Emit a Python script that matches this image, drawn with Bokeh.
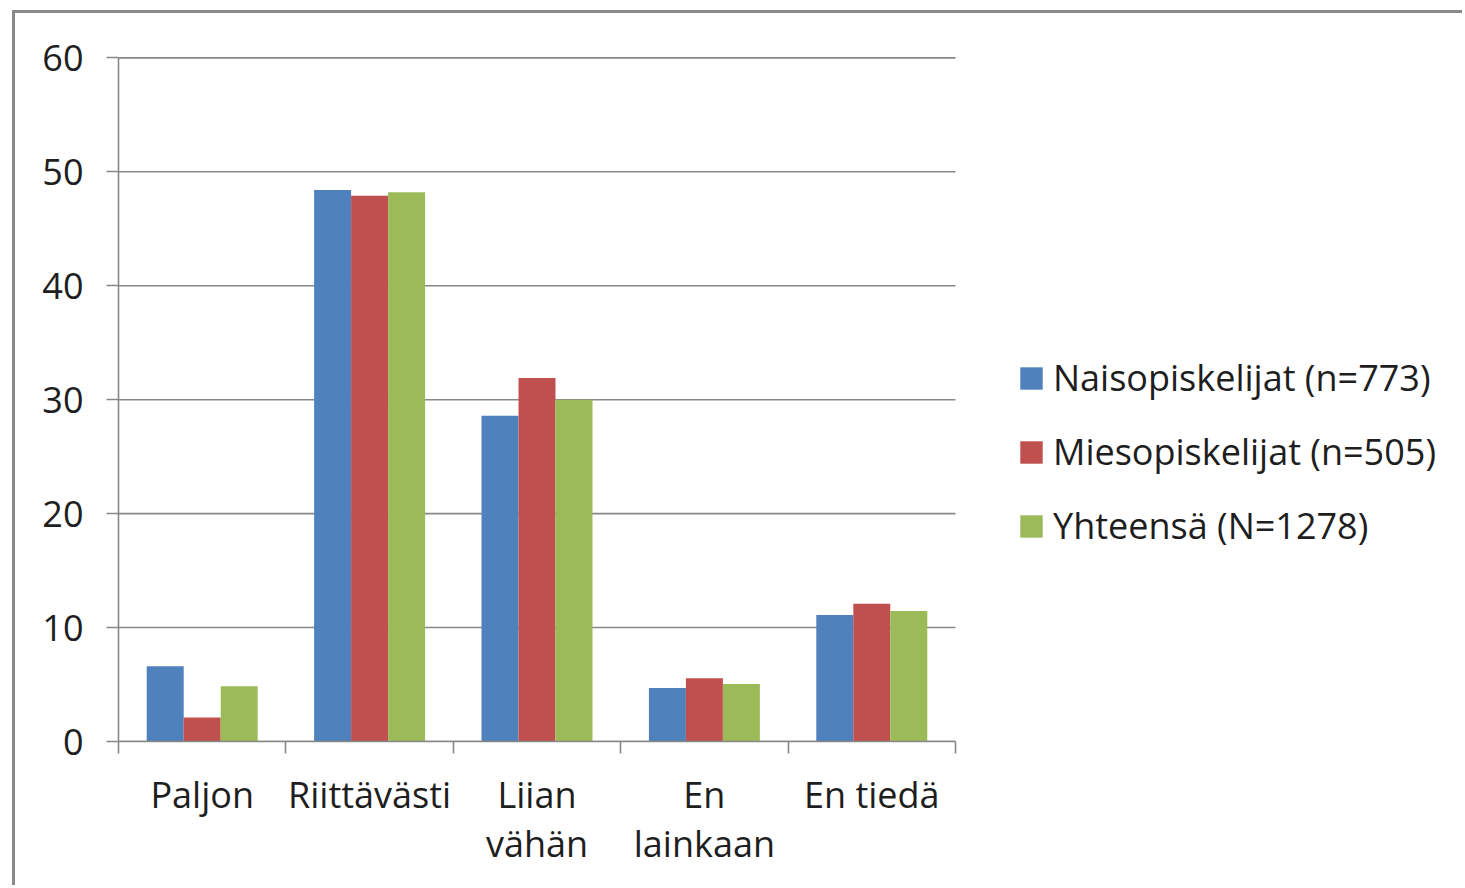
from bokeh.plotting import figure
from bokeh.models import ColumnDataSource, Range1d, FixedTicker, Legend, LegendItem
from bokeh.transform import dodge
from bokeh.embed import file_html
from bokeh.resources import INLINE

categories = ["Paljon", "Riittävästi", "Liian\nvähän", "En\nlainkaan", "En tiedä"]
series_names = ["Naisopiskelijat (n=773)", "Miesopiskelijat (n=505)", "Yhteensä (N=1278)"]
naiset = [6.6, 48.4, 28.6, 4.7, 11.1]
miehet = [2.1, 47.9, 31.9, 5.55, 12.1]
yhteensa = [4.85, 48.2, 30.0, 5.05, 11.45]
y_ticks = [0, 10, 20, 30, 40, 50, 60]
colors = ["#4F81BD", "#C0504D", "#9BBB59"]

n = len(categories)
centers = [i + 0.5 for i in range(n)]
bounds = [i for i in range(n + 1)]

source = ColumnDataSource(dict(cx=centers, naiset=naiset, miehet=miehet, yhteensa=yhteensa))

FONT = "Open Sans"
FS = "36px"
TXT = "#1e1e1e"
GRID = "#888888"

# plot area spans to the right edge so the legend (right of the bars) is not clipped
PLOT_PX = 837.0
FRAME_PX = 1450 - 103
p = figure(width=1450, height=875, output_backend="svg", toolbar_location=None,
           x_range=Range1d(0, n * FRAME_PX / PLOT_PX), y_range=Range1d(0, 60.12),
           min_border_left=103, min_border_right=0, min_border_top=43, min_border_bottom=147)
p.styles = {"margin-left": "12px", "margin-top": "10px",
            "border-left": "3px solid #8a8a8a", "border-top": "3px solid #8a8a8a"}
p.outline_line_color = None
p.background_fill_color = "white"
p.border_fill_color = "white"
p.grid.visible = False

# horizontal gridlines limited to the category area
p.segment(x0=0, x1=n, y0=y_ticks, y1=y_ticks, line_color=GRID, line_width=1.6)

bw = 0.221
renderers = []
for col, off, c in zip(["naiset", "miehet", "yhteensa"], [-bw, 0, bw], colors):
    r = p.vbar(x=dodge("cx", off, range=p.x_range), top=col, width=bw, bottom=0, source=source,
               fill_color=c, line_color=None)
    renderers.append(r)

# y axis
p.yaxis.ticker = FixedTicker(ticks=y_ticks)
p.yaxis.bounds = (0, 60)
p.yaxis.axis_line_color = GRID
p.yaxis.axis_line_width = 1.6
p.yaxis.major_tick_line_color = GRID
p.yaxis.major_tick_line_width = 1.6
p.yaxis.major_tick_out = 12
p.yaxis.major_tick_in = 0
p.yaxis.minor_tick_line_color = None
p.yaxis.major_label_standoff = 23
p.yaxis.major_label_text_font = FONT
p.yaxis.major_label_text_font_size = FS
p.yaxis.major_label_text_color = TXT

# x axis
p.xaxis.ticker = FixedTicker(ticks=centers, minor_ticks=bounds)
p.xaxis.bounds = (0, n)
p.xaxis.major_label_overrides = {c: lab for c, lab in zip(centers, categories)}
p.xaxis.axis_line_color = GRID
p.xaxis.axis_line_width = 1.6
p.xaxis.major_tick_line_color = None
p.xaxis.major_tick_out = 0
p.xaxis.major_tick_in = 0
p.xaxis.minor_tick_line_color = GRID
p.xaxis.minor_tick_line_width = 1.6
p.xaxis.minor_tick_out = 12
p.xaxis.minor_tick_in = 0
p.xaxis.major_label_standoff = 16
p.xaxis.major_label_text_font = FONT
p.xaxis.major_label_text_font_size = FS
p.xaxis.major_label_text_color = TXT
p.xaxis.major_label_text_line_height = 1.0

# legend
lg = Legend(items=[LegendItem(label=s, renderers=[r]) for s, r in zip(series_names, renderers)],
            location=(899, 191))
lg.border_line_color = None
lg.background_fill_alpha = 0
lg.padding = 0
lg.margin = 0
lg.glyph_width = 28
lg.glyph_height = 28
lg.label_height = 28
lg.spacing = 25
lg.label_standoff = 8
lg.label_text_font = FONT
lg.label_text_font_size = FS
lg.label_text_color = TXT
p.add_layout(lg)

open("out.html", "w").write(file_html(p, INLINE))
